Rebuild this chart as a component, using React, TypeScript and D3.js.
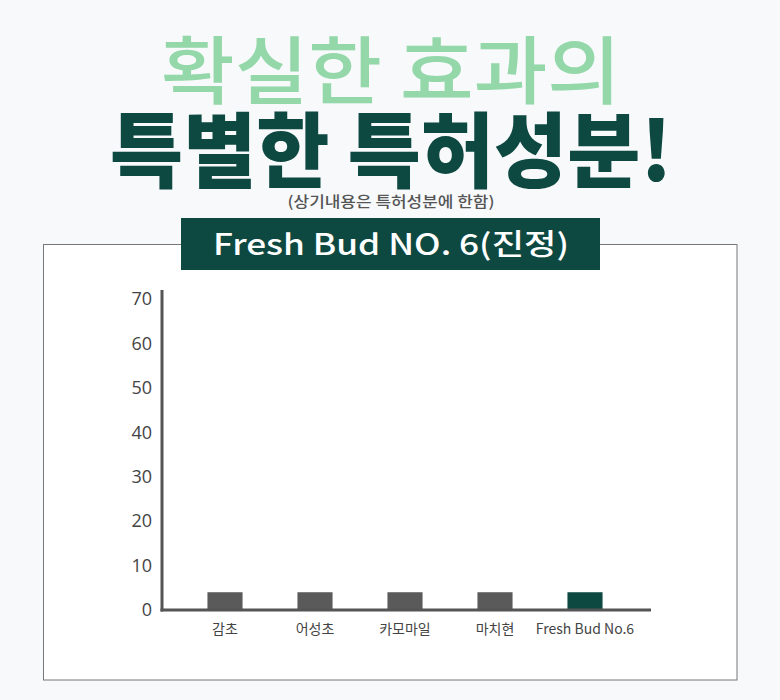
import * as d3 from "d3";

const WIDTH = 780;
const HEIGHT = 700;
const MARGIN = { top: 299, right: 130, bottom: 90, left: 162 };

const categories = ["감초", "어성초", "카모마일", "마치현", "Fresh Bud No.6"];
const values = [4, 4, 4, 4, 4];
const yTicks = [0, 10, 20, 30, 40, 50, 60, 70];

const KR_FONT = "'Noto Sans CJK KR', 'Noto Sans', sans-serif";
const NUM_FONT = "'Open Sans', 'Noto Sans', sans-serif";

const App = () => {
  const boundsHeight = HEIGHT - MARGIN.top - MARGIN.bottom;

  const yScale = d3.scaleLinear().domain([0, 70]).range([boundsHeight, 0]);

  const xScale = d3
    .scaleBand<string>()
    .domain(categories)
    .range([18, 468])
    .paddingInner(0.61)
    .paddingOuter(0.305);

  return (
    <svg
      width={WIDTH}
      height={HEIGHT}
      style={{ position: "absolute", left: 0, top: 0, background: "#f7f9fb" }}
    >
      <rect x={0} y={0} width={WIDTH} height={HEIGHT} fill="#f7f9fb" />

      {/* headline */}
      <text
        x={391}
        y={98}
        textAnchor="middle"
        fontFamily={KR_FONT}
        fontSize={74}
        fontWeight={500}
        fill="#94d8aa"
        textLength={460}
        lengthAdjust="spacingAndGlyphs"
      >
        확실한 효과의
      </text>
      <text
        x={391}
        y={181}
        textAnchor="middle"
        fontFamily={KR_FONT}
        fontSize={82}
        fontWeight={900}
        fill="#0d4841"
        textLength={562}
        lengthAdjust="spacingAndGlyphs"
      >
        특별한 특허성분!
      </text>
      <text
        x={391}
        y={207}
        textAnchor="middle"
        fontFamily={KR_FONT}
        fontSize={15}
        fontWeight={500}
        fill="#555"
        textLength={207}
        lengthAdjust="spacingAndGlyphs"
      >
        (상기내용은 특허성분에 한함)
      </text>

      {/* chart panel */}
      <rect x={43.5} y={244.5} width={693.5} height={435.5} fill="#fff" stroke="#777" strokeWidth={1} />
      <rect x={181} y={218} width={419} height={52} fill="#0d4841" />
      <text
        x={391}
        y={255}
        textAnchor="middle"
        fontFamily={KR_FONT}
        fontSize={29}
        fontWeight={500}
        fill="#fff"
        textLength={356}
        lengthAdjust="spacingAndGlyphs"
      >
        Fresh Bud NO. 6(진정)
      </text>

      <g transform={`translate(${MARGIN.left},${MARGIN.top})`}>
        {values.map((v, i) => (
          <rect
            key={categories[i]}
            x={xScale(categories[i])}
            y={yScale(v)}
            width={xScale.bandwidth()}
            height={yScale(0) - yScale(v)}
            fill={i === values.length - 1 ? "#0d4841" : "#5a5a5a"}
          />
        ))}

        {/* axes */}
        <line x1={0} x2={0} y1={-9} y2={boundsHeight + 1.5} stroke="#555" strokeWidth={3} />
        <line x1={-1.5} x2={489} y1={boundsHeight} y2={boundsHeight} stroke="#555" strokeWidth={3} />

        {yTicks.map((t) => (
          <text
            key={t}
            x={-10}
            y={yScale(t)}
            dy="0.35em"
            textAnchor="end"
            fontFamily={NUM_FONT}
            fontSize={18}
            fill="#444"
          >
            {t}
          </text>
        ))}

        {categories.map((c) => (
          <text
            key={c}
            x={(xScale(c) ?? 0) + xScale.bandwidth() / 2}
            y={boundsHeight + 24}
            textAnchor="middle"
            fontFamily={KR_FONT}
            fontSize={14}
            fill="#444"
          >
            {c}
          </text>
        ))}
      </g>
    </svg>
  );
};

export default App;
